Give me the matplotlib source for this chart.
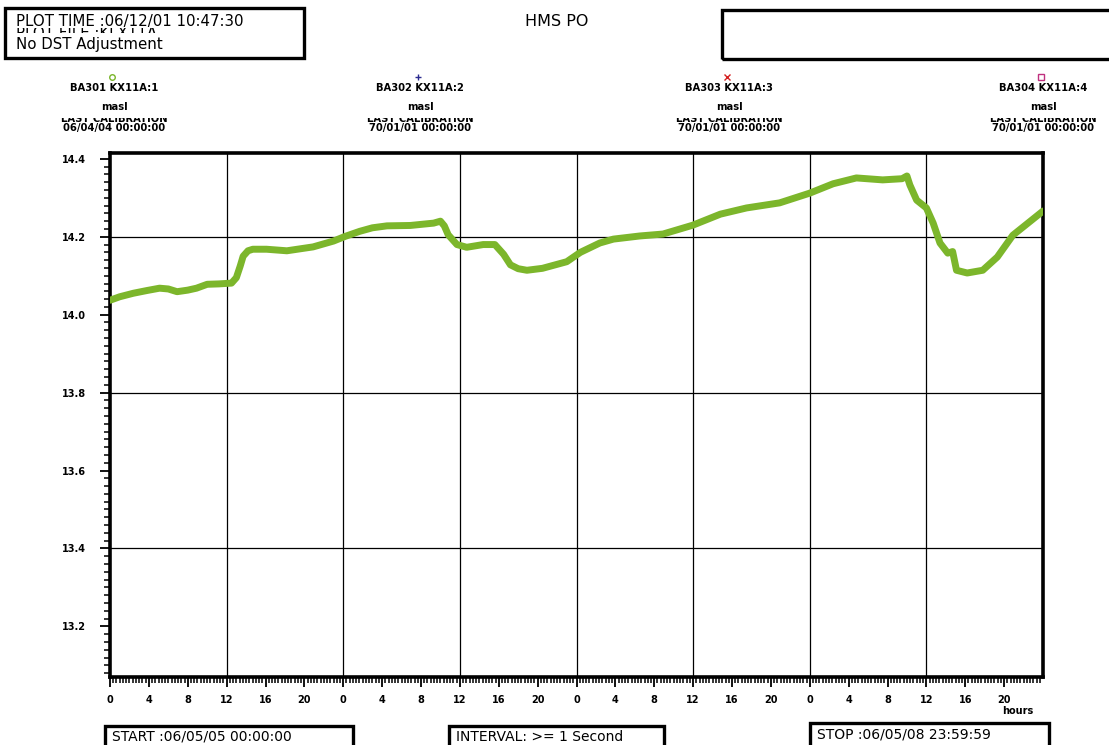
import numpy as np
import matplotlib
matplotlib.use("Agg")
import matplotlib.pyplot as plt
from matplotlib.patches import Rectangle
from matplotlib.transforms import Bbox

# Water level record, hours since start, metres above sea level
hours = [0.0, 1.0, 2.4, 3.8, 5.1, 6.0, 6.9, 8.0, 8.9, 10.0, 11.2, 12.5,
         13.0, 13.4, 13.7, 14.2, 14.7, 16.1, 18.2, 20.9, 23.0, 24.2, 25.7,
         27.0, 28.5, 30.9, 33.3, 34.0, 34.4, 34.8, 35.7, 36.7, 38.4, 39.6,
         40.5, 41.2, 42.0, 42.9, 44.5, 47.0, 48.4, 50.4, 51.8, 54.5, 56.9,
         60.0, 62.8, 65.5, 68.9, 72.0, 74.4, 76.8, 79.5, 81.5, 82.0, 82.3,
         83.0, 84.0, 84.7, 85.4, 86.2, 86.7, 87.1, 88.2, 89.8, 91.3, 92.9,
         94.5, 96.0]
level = [14.037, 14.046, 14.055, 14.062, 14.068, 14.066, 14.059, 14.063,
         14.068, 14.078, 14.079, 14.081, 14.095, 14.125, 14.150, 14.164,
         14.168, 14.168, 14.164, 14.174, 14.189, 14.201, 14.214, 14.223,
         14.228, 14.229, 14.235, 14.240, 14.228, 14.205, 14.180, 14.173,
         14.180, 14.180, 14.155, 14.128, 14.118, 14.114, 14.119, 14.136,
         14.160, 14.184, 14.194, 14.202, 14.207, 14.230, 14.258, 14.274,
         14.287, 14.312, 14.336, 14.351, 14.346, 14.349, 14.356, 14.333,
         14.294, 14.274, 14.235, 14.184, 14.158, 14.162, 14.114, 14.107,
         14.114, 14.148, 14.204, 14.236, 14.266]

x_ticks = list(range(0, 96, 4))
x_tick_labels = [str(h % 24) for h in x_ticks]
y_ticks = [13.2, 13.4, 13.6, 13.8, 14.0, 14.2, 14.4]
grid_hours = [12, 24, 36, 48, 60, 72, 84]
grid_levels = [13.4, 13.8, 14.2]

channels = ["BA301 KX11A:1", "BA302 KX11A:2", "BA303 KX11A:3", "BA304 KX11A:4"]
calibrations = ["06/04/04 00:00:00", "70/01/01 00:00:00",
                "70/01/01 00:00:00", "70/01/01 00:00:00"]
channel_markers = ["o", "+", "x", "s"]
channel_colors = ["#7ab52a", "#2b2b8f", "#d42020", "#c0307f"]
channel_x = [114, 420, 729, 1043]

W, H = 1109, 745
fig = plt.figure(figsize=(W / 100, H / 100), dpi=100)
fig.patch.set_facecolor("white")


def fx(x):
    return x / W


def fy(y):
    return 1 - y / H


def box(x0, y0, x1, y1):
    fig.add_artist(Rectangle((fx(x0), fy(y1)), (x1 - x0) / W, (y1 - y0) / H,
                             transform=fig.transFigure, fill=False,
                             edgecolor="black", linewidth=2.4))


def clip_text(t, y_top, y_bot):
    t.set_clip_on(True)
    t.set_clip_box(Bbox([[0, H - y_bot], [W, H - y_top]]))


ax = fig.add_axes([fx(110), fy(677), 933 / W, 524 / H])
ax.plot(hours, level, color="#7cb62b", linewidth=5.0,
        solid_capstyle="round", solid_joinstyle="round", zorder=3)

for h in grid_hours:
    ax.axvline(h, color="black", linewidth=0.9, zorder=1)
for v in grid_levels:
    ax.axhline(v, color="black", linewidth=0.9, zorder=1)

ax.set_xlim(0, 96)
ax.set_ylim(13.07, 14.415)
ax.set_xticks(x_ticks)
ax.set_xticklabels(x_tick_labels)
ax.set_xticks(np.arange(0, 96, 1 / 3), minor=True)
ax.set_yticks(y_ticks)
ax.set_yticklabels([f"{v:.1f}" for v in y_ticks])
ax.set_yticks(np.arange(13.08, 14.42, 0.02), minor=True)

for s in ax.spines.values():
    s.set_linewidth(2.6)
ax.tick_params(axis="both", which="major", direction="out", length=7,
               width=1.3, labelsize=7)
ax.tick_params(axis="x", which="major", pad=6)
ax.tick_params(axis="y", which="major", pad=10)
ax.tick_params(axis="both", which="minor", direction="out", length=4,
               width=1.1)
for lab in ax.get_xticklabels() + ax.get_yticklabels():
    lab.set_fontweight("bold")

# Header boxes
box(5, 8, 304, 58)
box(722, 10, 1115, 59)
t1 = fig.text(fx(16), fy(26), "PLOT TIME :06/12/01 10:47:30", fontsize=10.8,
              va="baseline", ha="left")
clip_text(t1, 14, 27.5)
t2 = fig.text(fx(16), fy(37.5), "PLOT FILE :KLX11A", fontsize=10.8,
              va="baseline", ha="left")
clip_text(t2, 27.5, 33)
fig.text(fx(16), fy(49), "No DST Adjustment", fontsize=10.8,
         va="baseline", ha="left")
fig.text(fx(557), fy(22), "HMS PO", fontsize=11.5, ha="center", va="center")

# Channel legend headers
for cx, name, cal, mk, col in zip(channel_x, channels, calibrations,
                                  channel_markers, channel_colors):
    fig.add_artist(plt.Line2D([fx(cx - 2)], [fy(77)], marker=mk, color=col,
                              markersize=4, markerfacecolor="none",
                              markeredgewidth=1.0, linestyle="none",
                              transform=fig.transFigure))
    fig.text(fx(cx), fy(88), name, fontsize=7.2, fontweight="bold",
             ha="center", va="center")
    fig.text(fx(cx), fy(107), "masl", fontsize=7.2, fontweight="bold",
             ha="center", va="center")
    lc = fig.text(fx(cx), fy(119), "LAST CALIBRATION", fontsize=7.2,
                  fontweight="bold", ha="center", va="center")
    clip_text(lc, 117.5, 124)
    fig.text(fx(cx), fy(128.5), cal, fontsize=7.2, fontweight="bold",
             ha="center", va="center")

fig.text(fx(1018), fy(711), "hours", fontsize=7, fontweight="bold",
         ha="center", va="center")

# Footer boxes
box(105, 726, 353, 752)
box(449, 726, 664, 752)
box(810, 723, 1049, 752)
fig.text(fx(112), fy(741), "START :06/05/05 00:00:00", fontsize=10,
         ha="left", va="baseline")
fig.text(fx(456), fy(741), "INTERVAL: >= 1 Second", fontsize=10,
         ha="left", va="baseline")
fig.text(fx(817), fy(739), "STOP :06/05/08 23:59:59", fontsize=10,
         ha="left", va="baseline")

fig.savefig("out.png", dpi=100, facecolor="white")
